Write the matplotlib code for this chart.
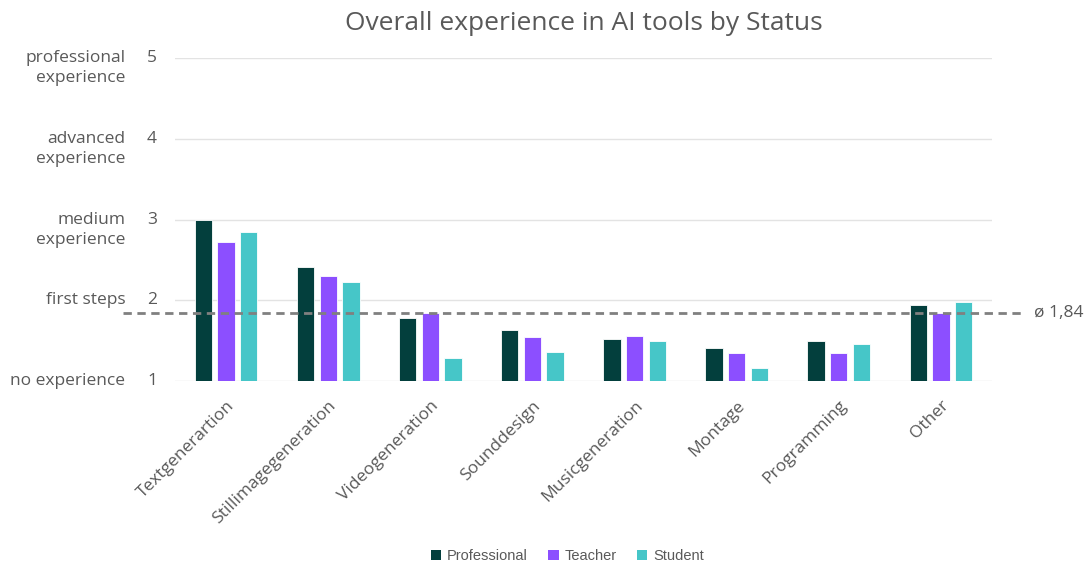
import numpy as np
import matplotlib.pyplot as plt
import matplotlib.transforms as mtransforms
from matplotlib.patches import Patch

tools = ["Textgenerartion", "Stillimagegeneration", "Videogeneration", "Sounddesign",
         "Musicgeneration", "Montage", "Programming", "Other"]
professional = [3.00, 2.41, 1.78, 1.63, 1.52, 1.41, 1.49, 1.94]
teacher = [2.72, 2.30, 1.84, 1.54, 1.56, 1.35, 1.35, 1.84]
student = [2.85, 2.23, 1.29, 1.36, 1.49, 1.16, 1.46, 1.98]
level_ticks = [1, 2, 3, 4, 5]
level_names = ["no experience", "first steps", "medium\nexperience",
               "advanced\nexperience", "professional\nexperience"]
mean_value = 1.84
mean_label = "ø 1,84"

colors = {"Professional": "#033f3d", "Teacher": "#8c4fff", "Student": "#46c6c8"}
grey = "#595959"
plt.rcParams["font.family"] = ["Open Sans", "DejaVu Sans"]

fig = plt.figure(figsize=(10.91, 5.65), dpi=100)
ax = fig.add_axes([175/1091, 1-381/565, 817/1091, (381-58)/565])

x = np.arange(len(tools))
w = 0.17
step = 0.222
series = [("Professional", professional), ("Teacher", teacher), ("Student", student)]
for i, (name, vals) in enumerate(series):
    heights = np.array(vals) - 1
    ax.bar(x + (i-1)*step, heights, w, bottom=1, color=colors[name],
           edgecolor="white", linewidth=0.6, zorder=3)

ax.set_xlim(-0.5, len(tools)-0.5)
ax.set_ylim(1, 5)
for v in level_ticks:
    ax.axhline(v, color="#e3e3e3", linewidth=1, zorder=1)
for s in ax.spines.values():
    s.set_visible(False)

ax.set_yticks(level_ticks)
ax.set_yticklabels([])
ax.tick_params(axis="both", length=0)
ax.set_xticks(x)
ax.set_xticklabels(tools, rotation=45, ha="right", rotation_mode="anchor",
                   fontsize=12.5, color=grey)
ax.tick_params(axis="x", pad=12)

# level names and numbers on the left
tr = mtransforms.blended_transform_factory(ax.transAxes, ax.transData)
for v, name in zip(level_ticks, level_names):
    ax.text(-0.028, v, str(v), transform=tr, ha="center", va="center",
            fontsize=12.5, color=grey)
    lines = name.split("\n")
    for k, line in enumerate(lines):
        ax.annotate(line, xy=(-0.061, v), xycoords=tr, xytext=(0, -14.5*k),
                    textcoords="offset points", ha="right", va="center",
                    fontsize=12.5, color=grey)

# average line
ax.plot([-0.064, 1.038], [mean_value, mean_value], transform=tr, clip_on=False,
        color="#808080", linestyle=(0, (3, 2)), linewidth=2, zorder=4)
ax.text(1.051, mean_value, mean_label, transform=tr, ha="left", va="center",
        fontsize=12.5, color=grey)

ax.set_title("Overall experience in AI tools by Status", fontsize=19, color=grey,
             y=1.0, pad=20)

handles = [Patch(facecolor=colors[n], label=n) for n, _ in series]
fig.legend(handles=handles, loc="center", bbox_to_anchor=(0.52, 1-556/565), ncol=3,
           frameon=False, handlelength=0.7, handleheight=0.7,
           handletextpad=0.4, columnspacing=1.4, labelcolor=grey,
           prop={"family": ["Liberation Sans", "DejaVu Sans"], "size": 10.5})

fig.savefig("out.png", dpi=100, facecolor="white")
